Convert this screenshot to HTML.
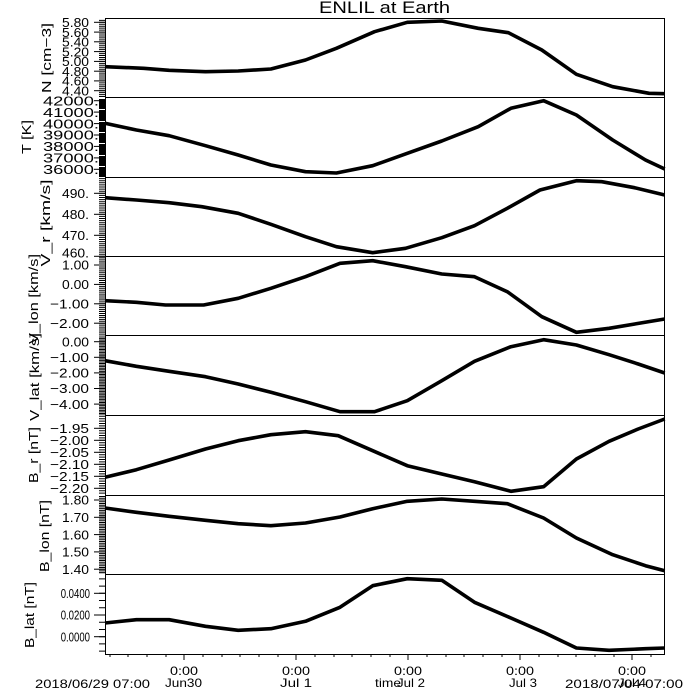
<!DOCTYPE html>
<html><head><meta charset="utf-8"><style>
html,body{margin:0;padding:0;background:#fff;}
svg{display:block;}
text{font-family:"Liberation Sans",sans-serif;fill:#000;}
</style></head><body>
<svg width="700" height="700" viewBox="0 0 700 700" xmlns="http://www.w3.org/2000/svg">
<rect x="0" y="0" width="700" height="700" fill="#fff"/>

<!-- Title -->
<text x="319" y="13" font-size="17" textLength="131" lengthAdjust="spacingAndGlyphs">ENLIL at Earth</text>

<!-- Panel frames -->
<g fill="none" stroke="#000" stroke-width="1" shape-rendering="crispEdges">
<rect x="105.5" y="18.5" width="559" height="636"/>
<line x1="105" y1="97.5" x2="665" y2="97.5"/>
<line x1="105" y1="177.5" x2="665" y2="177.5"/>
<line x1="105" y1="256.5" x2="665" y2="256.5"/>
<line x1="105" y1="335.5" x2="665" y2="335.5"/>
<line x1="105" y1="415.5" x2="665" y2="415.5"/>
<line x1="105" y1="495.5" x2="665" y2="495.5"/>
<line x1="105" y1="574.5" x2="665" y2="574.5"/>
</g>

<!-- Minor y ticks via dashed vertical strokes -->
<g stroke="#000" stroke-width="6" fill="none">
<line x1="102" y1="19.85" x2="102" y2="97" stroke-dasharray="1 0.954"/>
<line x1="102" y1="178.1" x2="102" y2="256" stroke-dasharray="1 1.1"/>
<line x1="102" y1="256.74" x2="102" y2="335.5" stroke-dasharray="1 0.94"/>
<line x1="102" y1="336.52" x2="102" y2="415" stroke-dasharray="1 0.56"/>
<line x1="102" y1="415.8" x2="102" y2="495" stroke-dasharray="1 1.4"/>
<line x1="102" y1="496.04" x2="102" y2="574" stroke-dasharray="1 0.73"/>
<line x1="102" y1="578.33" x2="102" y2="654" stroke-dasharray="1 6.233"/>
</g>
<!-- T panel solid tick block -->
<rect x="99" y="98" width="6" height="79" fill="#000"/>
<g stroke="#fff" stroke-width="1" shape-rendering="crispEdges">
<line x1="99" y1="98.5" x2="105" y2="98.5"/>
<line x1="99" y1="109.5" x2="105" y2="109.5"/>
<line x1="99" y1="121.5" x2="105" y2="121.5"/>
<line x1="99" y1="132.5" x2="105" y2="132.5"/>
<line x1="99" y1="143.5" x2="105" y2="143.5"/>
<line x1="99" y1="155.5" x2="105" y2="155.5"/>
<line x1="99" y1="166.5" x2="105" y2="166.5"/>
</g>

<!-- Major y ticks -->
<g stroke="#000" stroke-width="1">
<line x1="94" y1="22.3" x2="105" y2="22.3"/><line x1="94" y1="32.1" x2="105" y2="32.1"/><line x1="94" y1="41.8" x2="105" y2="41.8"/><line x1="94" y1="51.6" x2="105" y2="51.6"/><line x1="94" y1="61.4" x2="105" y2="61.4"/><line x1="94" y1="71.2" x2="105" y2="71.2"/><line x1="94" y1="80.9" x2="105" y2="80.9"/><line x1="94" y1="90.7" x2="105" y2="90.7"/>
<line x1="94" y1="100.7" x2="105" y2="100.7"/><line x1="94" y1="112.1" x2="105" y2="112.1"/><line x1="94" y1="123.6" x2="105" y2="123.6"/><line x1="94" y1="135" x2="105" y2="135"/><line x1="94" y1="146.4" x2="105" y2="146.4"/><line x1="94" y1="157.9" x2="105" y2="157.9"/><line x1="94" y1="169.3" x2="105" y2="169.3"/>
<line x1="94" y1="193.3" x2="105" y2="193.3"/><line x1="94" y1="214.3" x2="105" y2="214.3"/><line x1="94" y1="235.3" x2="105" y2="235.3"/><line x1="94" y1="256.3" x2="105" y2="256.3"/>
<line x1="94" y1="265" x2="105" y2="265"/><line x1="94" y1="284.4" x2="105" y2="284.4"/><line x1="94" y1="303.8" x2="105" y2="303.8"/><line x1="94" y1="323.2" x2="105" y2="323.2"/>
<line x1="94" y1="341.7" x2="105" y2="341.7"/><line x1="94" y1="357.3" x2="105" y2="357.3"/><line x1="94" y1="372.9" x2="105" y2="372.9"/><line x1="94" y1="388.5" x2="105" y2="388.5"/><line x1="94" y1="404.1" x2="105" y2="404.1"/>
<line x1="94" y1="428.3" x2="105" y2="428.3"/><line x1="94" y1="440.3" x2="105" y2="440.3"/><line x1="94" y1="452.3" x2="105" y2="452.3"/><line x1="94" y1="464.3" x2="105" y2="464.3"/><line x1="94" y1="476.3" x2="105" y2="476.3"/><line x1="94" y1="488.3" x2="105" y2="488.3"/>
<line x1="94" y1="500" x2="105" y2="500"/><line x1="94" y1="517.3" x2="105" y2="517.3"/><line x1="94" y1="534.6" x2="105" y2="534.6"/><line x1="94" y1="551.9" x2="105" y2="551.9"/><line x1="94" y1="569.2" x2="105" y2="569.2"/>
<line x1="94" y1="593.3" x2="105" y2="593.3"/><line x1="94" y1="615" x2="105" y2="615"/><line x1="94" y1="636.7" x2="105" y2="636.7"/>
</g>

<!-- X ticks -->
<g stroke="#000" stroke-width="1" shape-rendering="crispEdges">
<line x1="110" y1="654" x2="110" y2="657"/><line x1="128" y1="654" x2="128" y2="657"/><line x1="147" y1="654" x2="147" y2="657"/><line x1="166" y1="654" x2="166" y2="657"/>
<line x1="184" y1="654" x2="184" y2="660"/>
<line x1="203" y1="654" x2="203" y2="657"/><line x1="222" y1="654" x2="222" y2="657"/><line x1="240" y1="654" x2="240" y2="657"/><line x1="259" y1="654" x2="259" y2="657"/><line x1="278" y1="654" x2="278" y2="657"/>
<line x1="296" y1="654" x2="296" y2="660"/>
<line x1="315" y1="654" x2="315" y2="657"/><line x1="334" y1="654" x2="334" y2="657"/><line x1="352" y1="654" x2="352" y2="657"/><line x1="371" y1="654" x2="371" y2="657"/><line x1="390" y1="654" x2="390" y2="657"/>
<line x1="408" y1="654" x2="408" y2="660"/>
<line x1="427" y1="654" x2="427" y2="657"/><line x1="446" y1="654" x2="446" y2="657"/><line x1="464" y1="654" x2="464" y2="657"/><line x1="483" y1="654" x2="483" y2="657"/><line x1="502" y1="654" x2="502" y2="657"/>
<line x1="520" y1="654" x2="520" y2="660"/>
<line x1="539" y1="654" x2="539" y2="657"/><line x1="558" y1="654" x2="558" y2="657"/><line x1="576" y1="654" x2="576" y2="657"/><line x1="595" y1="654" x2="595" y2="657"/><line x1="614" y1="654" x2="614" y2="657"/>
<line x1="632" y1="654" x2="632" y2="660"/>
<line x1="651" y1="654" x2="651" y2="657"/>
</g>

<!-- Data curves -->
<g fill="none" stroke="#000" stroke-width="3.6" stroke-linejoin="round">
<polyline points="105,66.7 143.6,68.3 169.1,70.3 205.5,71.7 238.2,71 270.9,69 305.5,60 336.4,48.3 374.5,31.7 407.3,22.3 441.8,21 478.2,28.3 508.4,32.7 541.8,50 576.4,74.3 612.7,86.7 649.1,93.3 664.7,93.7"/>
<polyline points="105,123.3 136.4,130 169.1,135.7 205.5,145.7 238.2,155 270.9,165 305.5,171.7 336.4,173 372.7,165.7 407.3,153.3 441.8,141 478.2,126.7 510.9,108.3 543.6,100.7 576.4,115 612.7,140 645.5,160 664.7,169"/>
<polyline points="105,197.7 136.4,200 169.1,202.7 201.8,206.7 238.2,213.3 270.9,224.3 305.5,236.7 336.4,246.7 372.7,252.7 405.5,248.3 441.8,237.7 474.5,225.7 507.3,208.3 540,190 576.4,180.7 601.8,181.7 634.5,187.7 664.7,195"/>
<polyline points="105,300.7 136.4,302.3 165.5,305 203.6,305 238.2,298.3 270.9,288.3 305.5,276.7 340,263.3 372.7,260.7 405.5,266.7 441.8,274 474.5,276.7 507.3,291.7 541.8,316.7 576.4,332.3 609.1,328.3 664.7,319"/>
<polyline points="105,360.7 136.4,366.3 169.1,371.3 205.5,376.7 238.2,384 270.9,392.3 305.5,401.7 340,411.7 374.5,411.7 407.3,400.7 441.8,380.7 474.5,361.3 510.9,346.7 543.6,339.7 576.4,345 609.1,354.7 638.2,364 664.7,373"/>
<polyline points="105,477.3 136.4,469.7 169.1,460 205.5,449 238.2,440.7 270.9,434.7 305.5,431.7 338.2,435.7 372.7,450.7 407.3,465.7 441.8,474 474.5,481.7 510.9,491.3 543.6,486.7 576.4,459 609.1,441.3 638.2,429 664.7,419"/>
<polyline points="105,508 136.4,512.3 169.1,516.3 205.5,520.3 238.2,523.7 270.9,525.7 305.5,523 340,517 372.7,508.7 407.3,501.3 441.8,499 474.5,501.3 507.3,503.7 543.6,518 576.4,538 612.7,554.7 645.5,565.7 664.7,570.7"/>
<polyline points="105,623 136.4,619.7 169.1,619.7 205.5,626.3 238.2,630.3 270.9,628.7 305.5,621.3 340,607.3 372.7,585.7 407.3,578.7 441.8,580.3 474.5,602.3 510.9,618 543.6,632.3 576.4,648 609.1,650.3 645.5,648.7 664.7,648"/>
</g>

<!-- Y tick labels -->
<g font-size="13" lengthAdjust="spacingAndGlyphs">
<text x="62" y="27" textLength="27" lengthAdjust="spacingAndGlyphs">5.80</text>
<text x="62" y="36.8" textLength="27" lengthAdjust="spacingAndGlyphs">5.60</text>
<text x="62" y="46.5" textLength="27" lengthAdjust="spacingAndGlyphs">5.40</text>
<text x="62" y="56.3" textLength="27" lengthAdjust="spacingAndGlyphs">5.20</text>
<text x="62" y="66.1" textLength="27" lengthAdjust="spacingAndGlyphs">5.00</text>
<text x="62" y="75.9" textLength="27" lengthAdjust="spacingAndGlyphs">4.80</text>
<text x="62" y="85.6" textLength="27" lengthAdjust="spacingAndGlyphs">4.60</text>
<text x="62" y="95.4" textLength="27" lengthAdjust="spacingAndGlyphs">4.40</text>

<text x="43" y="105.4" textLength="56" lengthAdjust="spacingAndGlyphs">42000.</text>
<text x="43" y="116.8" textLength="56" lengthAdjust="spacingAndGlyphs">41000.</text>
<text x="43" y="128.3" textLength="56" lengthAdjust="spacingAndGlyphs">40000.</text>
<text x="43" y="139.7" textLength="56" lengthAdjust="spacingAndGlyphs">39000.</text>
<text x="43" y="151.1" textLength="56" lengthAdjust="spacingAndGlyphs">38000.</text>
<text x="43" y="162.6" textLength="56" lengthAdjust="spacingAndGlyphs">37000.</text>
<text x="43" y="174" textLength="56" lengthAdjust="spacingAndGlyphs">36000.</text>

<text x="62" y="198" textLength="27" lengthAdjust="spacingAndGlyphs">490.</text>
<text x="62" y="219" textLength="27" lengthAdjust="spacingAndGlyphs">480.</text>
<text x="62" y="240" textLength="27" lengthAdjust="spacingAndGlyphs">470.</text>
<text x="62" y="257.5" textLength="27" lengthAdjust="spacingAndGlyphs">460.</text>

<text x="62" y="269.5" textLength="27" lengthAdjust="spacingAndGlyphs">1.00</text>
<text x="62" y="289.1" textLength="27" lengthAdjust="spacingAndGlyphs">0.00</text>
<text x="50" y="308.5" textLength="39" lengthAdjust="spacingAndGlyphs">−1.00</text>
<text x="50" y="327.9" textLength="39" lengthAdjust="spacingAndGlyphs">−2.00</text>

<text x="62" y="346.4" textLength="27" lengthAdjust="spacingAndGlyphs">0.00</text>
<text x="50" y="362" textLength="39" lengthAdjust="spacingAndGlyphs">−1.00</text>
<text x="50" y="377.6" textLength="39" lengthAdjust="spacingAndGlyphs">−2.00</text>
<text x="50" y="393.2" textLength="39" lengthAdjust="spacingAndGlyphs">−3.00</text>
<text x="50" y="408.8" textLength="39" lengthAdjust="spacingAndGlyphs">−4.00</text>

<text x="50" y="433" textLength="39" lengthAdjust="spacingAndGlyphs">−1.95</text>
<text x="50" y="445" textLength="39" lengthAdjust="spacingAndGlyphs">−2.00</text>
<text x="50" y="457" textLength="39" lengthAdjust="spacingAndGlyphs">−2.05</text>
<text x="50" y="469" textLength="39" lengthAdjust="spacingAndGlyphs">−2.10</text>
<text x="50" y="481" textLength="39" lengthAdjust="spacingAndGlyphs">−2.15</text>
<text x="50" y="493" textLength="39" lengthAdjust="spacingAndGlyphs">−2.20</text>

<text x="62" y="504.7" textLength="27" lengthAdjust="spacingAndGlyphs">1.80</text>
<text x="62" y="522" textLength="27" lengthAdjust="spacingAndGlyphs">1.70</text>
<text x="62" y="539.3" textLength="27" lengthAdjust="spacingAndGlyphs">1.60</text>
<text x="62" y="556.6" textLength="27" lengthAdjust="spacingAndGlyphs">1.50</text>
<text x="62" y="573.9" textLength="27" lengthAdjust="spacingAndGlyphs">1.40</text>

<text x="60.7" y="598" textLength="29.3" lengthAdjust="spacingAndGlyphs">0.0400</text>
<text x="60.7" y="619.7" textLength="29.3" lengthAdjust="spacingAndGlyphs">0.0200</text>
<text x="60.7" y="641.4" textLength="29.3" lengthAdjust="spacingAndGlyphs">0.0000</text>
</g>

<!-- Y axis titles (rotated) -->
<g font-size="13" text-anchor="middle">
<text transform="translate(51,58) rotate(-90)" textLength="70" lengthAdjust="spacingAndGlyphs">N [cm−3]</text>
<text transform="translate(31,137) rotate(-90)" textLength="34" lengthAdjust="spacingAndGlyphs">T [K]</text>
<text transform="translate(50,223) rotate(-90)" textLength="87" lengthAdjust="spacingAndGlyphs">V_r [km/s]</text>
<text transform="translate(38,299) rotate(-90)" textLength="90" lengthAdjust="spacingAndGlyphs">V_lon [km/s]</text>
<text transform="translate(39,377) rotate(-90)" textLength="88" lengthAdjust="spacingAndGlyphs">V_lat [km/s]</text>
<text transform="translate(38,455) rotate(-90)" textLength="56" lengthAdjust="spacingAndGlyphs">B_r [nT]</text>
<text transform="translate(49,536) rotate(-90)" textLength="72" lengthAdjust="spacingAndGlyphs">B_lon [nT]</text>
<text transform="translate(34,615) rotate(-90)" textLength="66" lengthAdjust="spacingAndGlyphs">B_lat [nT]</text>
</g>

<!-- X labels -->
<g font-size="12">
<text x="170" y="675" textLength="28" lengthAdjust="spacingAndGlyphs">0:00</text>
<text x="282" y="675" textLength="28" lengthAdjust="spacingAndGlyphs">0:00</text>
<text x="394" y="675" textLength="28" lengthAdjust="spacingAndGlyphs">0:00</text>
<text x="506" y="675" textLength="28" lengthAdjust="spacingAndGlyphs">0:00</text>
<text x="618" y="675" textLength="28" lengthAdjust="spacingAndGlyphs">0:00</text>
<text x="165" y="687" textLength="37" lengthAdjust="spacingAndGlyphs">Jun30</text>
<text x="280" y="687" textLength="32" lengthAdjust="spacingAndGlyphs">Jul 1</text>
<text x="397" y="687" textLength="28" lengthAdjust="spacingAndGlyphs">Jul 2</text>
<text x="509" y="687" textLength="28" lengthAdjust="spacingAndGlyphs">Jul 3</text>
<text x="618" y="687" textLength="28" lengthAdjust="spacingAndGlyphs">Jul 4</text>
<text x="375" y="687" textLength="26" lengthAdjust="spacingAndGlyphs">time</text>
<text x="35" y="688" textLength="115" lengthAdjust="spacingAndGlyphs">2018/06/29 07:00</text>
<text x="565" y="688" textLength="118" lengthAdjust="spacingAndGlyphs">2018/07/04 07:00</text>
</g>
</svg>
</body></html>
